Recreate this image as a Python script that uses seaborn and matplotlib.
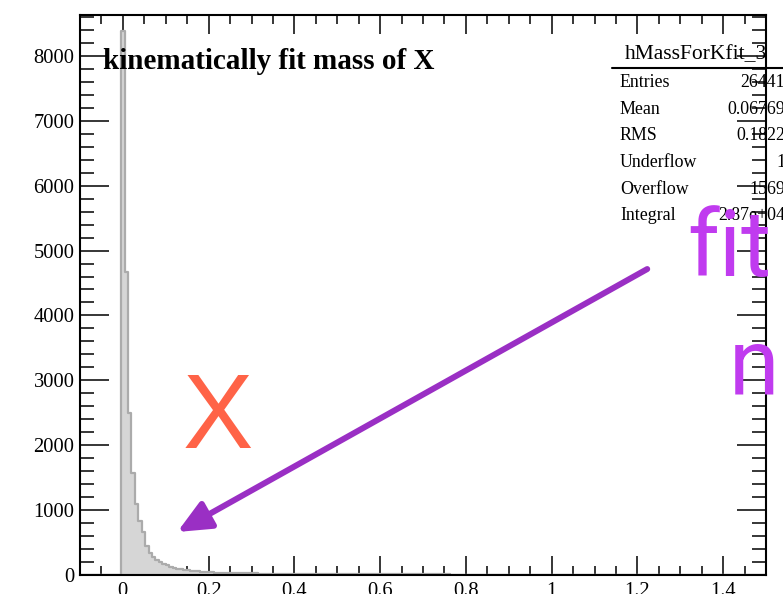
import numpy as np
import matplotlib
matplotlib.use("Agg")
from matplotlib import pyplot as plt
from matplotlib.lines import Line2D
from matplotlib.ticker import MultipleLocator, FixedLocator, FixedFormatter
import pandas as pd
import seaborn as sns

# histogram: 200 bins from -0.1 to 1.5 (width 0.008), counts
bin_lo, bin_hi, n_bins = -0.1, 1.5, 200
counts_below_zero = [0] * 12
counts_peak = [8380, 4670, 2490, 1570, 1090, 830, 655, 440, 345, 280,
               235, 200, 170, 148, 128, 112, 100, 90, 80, 72,
               65, 60, 55, 50, 46, 43]
counts_tail_near = [40, 38, 37, 35, 34, 33, 31, 30, 29, 28,
                    27, 26, 25, 24, 23, 22, 22, 21, 20, 19,
                    19, 18, 18, 17, 17]
counts_tail_mid = [16, 16, 16, 15, 15, 15, 14, 14, 14, 14,
                   13, 13, 13, 13, 12, 12, 12, 12, 12, 11,
                   11, 11, 11, 11, 10, 10, 10, 10, 10, 10,
                   9, 9, 9, 9, 9, 9, 9, 8, 8, 8,
                   8, 8, 8, 8, 8, 7, 7, 7, 7, 7]
counts_tail_far = [7, 7, 7, 7, 7, 6, 6, 6, 6, 6,
                   6, 6, 6, 6, 6, 6, 5, 5, 5, 5,
                   5, 5, 5, 5, 5, 5, 5, 5, 5, 5,
                   4, 4, 4, 4, 4, 4, 4, 4, 4, 4,
                   4, 4, 4, 4, 4, 4, 4, 4, 4, 4,
                   3, 3, 3, 3, 3, 3, 3, 3, 3, 3,
                   3, 3, 3, 3, 3, 3, 3, 3, 3, 3,
                   3, 3, 3, 3, 3, 3, 3, 3, 3, 3,
                   3, 3, 3, 3, 3, 3, 3]
counts = np.array(counts_below_zero + counts_peak + counts_tail_near
                  + counts_tail_mid + counts_tail_far, dtype=float)

x_ticks = [0, 0.2, 0.4, 0.6, 0.8, 1.0, 1.2, 1.4]
x_tick_labels = ["0", "0.2", "0.4", "0.6", "0.8", "1", "1.2", "1.4"]
y_ticks = [0, 1000, 2000, 3000, 4000, 5000, 6000, 7000, 8000]
y_tick_labels = ["0", "1000", "2000", "3000", "4000", "5000", "6000", "7000", "8000"]

stat_names = ["Entries", "Mean", "RMS", "Underflow", "Overflow", "Integral"]
stat_values = ["26441", "0.06769", "0.1822", "1", "1569", "2.87e+04"]

edges = np.linspace(bin_lo, bin_hi, n_bins + 1)
df = pd.DataFrame({"mass": (edges[:-1] + edges[1:]) / 2, "count": counts})

sns.set_style("ticks")
plt.rcParams['font.family'] = ['Liberation Serif', 'DejaVu Serif']
plt.rcParams['text.color'] = 'black'

W, H = 783, 594
fig = plt.figure(figsize=(W / 100, H / 100), dpi=100)
ax = fig.add_axes([80 / W, 19 / H, 686 / W, 560 / H])

sns.histplot(data=df, x="mass", weights="count", bins=list(edges), element="step",
             fill=True, facecolor="#d6d6d6", edgecolor="#ababab", linewidth=1.6, ax=ax)

ax.set_xlim(bin_lo, bin_hi)
ax.set_ylim(0, 8630)
ax.set_xlabel("")
ax.set_ylabel("")

ax.xaxis.set_major_locator(FixedLocator(x_ticks))
ax.xaxis.set_major_formatter(FixedFormatter(x_tick_labels))
ax.xaxis.set_minor_locator(MultipleLocator(0.05))
ax.yaxis.set_major_locator(FixedLocator(y_ticks))
ax.yaxis.set_major_formatter(FixedFormatter(y_tick_labels))
ax.yaxis.set_minor_locator(MultipleLocator(200))

ax.tick_params(which="both", direction="in", top=True, right=True,
               width=1.1, colors="black", labelsize=14.8)
ax.tick_params(axis="x", which="major", length=13.5, pad=5)
ax.tick_params(axis="x", which="minor", length=6.5)
ax.tick_params(axis="y", which="major", length=21, pad=4)
ax.tick_params(axis="y", which="minor", length=10)
for side in ["left", "right", "top", "bottom"]:
    ax.spines[side].set_linewidth(1.5)
    ax.spines[side].set_color("black")


def fx(px):
    return px / W


def fy(py):
    return 1 - py / H


# title inside the pad
fig.text(fx(103), fy(69), "kinematically fit mass of X", fontsize=21,
         fontweight="bold", va="baseline", ha="left")

# stats box (runs past the right edge of the picture)
fig.text(fx(625), fy(59), "hMassForKfit_3", fontsize=15.5, va="baseline")
fig.add_artist(Line2D([fx(612), 1.0], [fy(67.7), fy(67.7)], color="black", lw=1.5))
for i, (name, val) in enumerate(zip(stat_names, stat_values)):
    yb = 87 + i * 26.7
    fig.text(fx(620), fy(yb), name, fontsize=12.9, va="baseline")
    fig.text(fx(785), fy(yb), val, fontsize=12.9, va="baseline", ha="right")

# overlay annotations
fig.text(fx(183), fy(448), "X", fontsize=76, color="#ff6347",
         family="Liberation Sans", va="baseline")
fig.text(fx(687), fy(276), "fit", fontsize=66, color="#c03bef",
         family="Roboto", va="baseline")
fig.text(fx(729), fy(394), "n", fontsize=66, color="#c03bef",
         family="Roboto", va="baseline")

ax.annotate("", xy=(0.127, 663), xytext=(1.223, 4715), xycoords="data",
            annotation_clip=False,
            arrowprops=dict(arrowstyle="-|>,head_length=1.0,head_width=0.45",
                            mutation_scale=20, lw=4.3, color="#9a2fc4",
                            shrinkA=0, shrinkB=0))

fig.savefig("out.png", dpi=100)
